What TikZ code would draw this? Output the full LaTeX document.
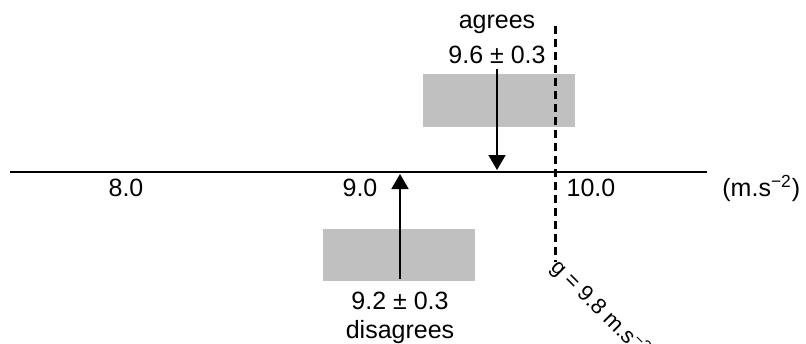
\documentclass[tikz,border=0pt]{standalone}
\usepackage{fontspec}
\setmainfont{Liberation Sans}
\usetikzlibrary{arrows.meta}
\definecolor{boxgray}{HTML}{C0C0C0}
\begin{document}
\begin{tikzpicture}[
    x=0.5pt, y=-0.5pt,
    every node/.style={font=\fontsize{12.5}{15}\selectfont, inner sep=1pt},
    errbox/.style={fill=boxgray, draw=none},
    reading/.style={-{Triangle[length=7.5pt,width=8.5pt]}, line width=0.9pt},
    gline/.style={line width=1.3pt, dash pattern=on 4pt off 2.5pt},
    axisline/.style={line width=1pt}
]
    \useasboundingbox (0,0) rectangle (806,343);

    % error boxes
    \fill [errbox] (423,74) rectangle (575,127);
    \fill [errbox] (323,229) rectangle (475,281);

    % axis
    \coordinate (axisL) at (10,172);
    \coordinate (axisR) at (707,172);
    \draw [axisline] (axisL) -- (axisR);
    \node [anchor=base] (tick8) at (126,196) {8.0};
    \node [anchor=base] (tick9) at (360,196) {9.0};
    \node [anchor=base] (tick10) at (591,196) {10.0};
    \node [anchor=base west, inner sep=0pt] (unit) at (722,196) {(m.s\textsuperscript{−2})};

    % accepted value
    \coordinate (gtop) at (555.5,26);
    \coordinate (gbot) at (555.5,262);
    \draw [gline] (gtop) -- (gbot);
    \node [rotate=-45, anchor=base west, inner sep=0pt, font=\fontsize{11}{13}\selectfont]
        (glabel) at ([xshift=-3pt,yshift=-3pt]gbot) {g = 9.8 m.s\textsuperscript{−2}};

    % readings
    \node [anchor=base] (agr) at (497,28) {agrees};
    \node [anchor=base] (topval) at (497,63) {9.6 ± 0.3};
    \coordinate (toptip) at (497,170);
    \draw [reading] ([yshift=-1.5pt]topval.south) -- (toptip);

    \node [anchor=base] (botval) at (400,309) {9.2 ± 0.3};
    \node [anchor=base] (disagr) at (400,338) {disagrees};
    \coordinate (bottip) at (400,174);
    \draw [reading] ([yshift=5pt]botval.north) -- (bottip);
\end{tikzpicture}
\end{document}
